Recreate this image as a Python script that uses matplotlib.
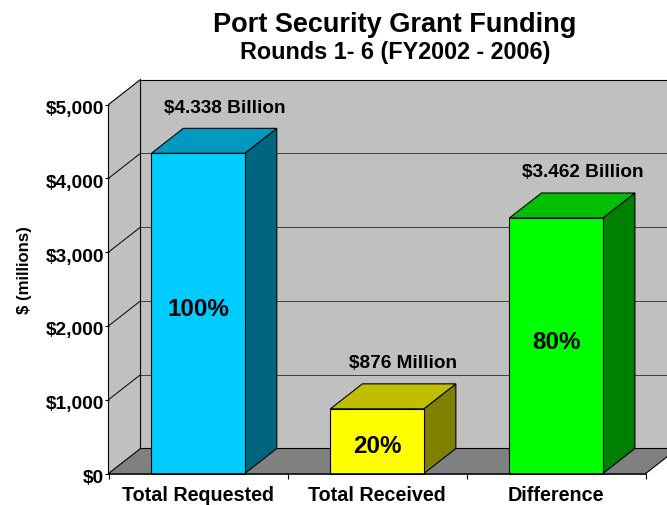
#!/usr/bin/env python3
"""Port security grant funding - fake 3D bar chart, PowerPoint style."""
import matplotlib
matplotlib.use("Agg")
import matplotlib.pyplot as plt
from matplotlib.patches import Polygon
from matplotlib.transforms import ScaledTranslation

plt.rcParams['font.family'] = ['Liberation Sans', 'DejaVu Sans']
plt.rcParams['font.weight'] = 'bold'

categories = ['Total Requested', 'Total Received', 'Difference']
values = [4338, 876, 3462]
value_labels = ['$4.338 Billion', '$876 Million', '$3.462 Billion']
pct_labels = ['100%', '20%', '80%']
y_ticks = [0, 1000, 2000, 3000, 4000, 5000]
y_tick_labels = ['$0', '$1,000', '$2,000', '$3,000', '$4,000', '$5,000']

front_colors = ['#00CCFF', '#FFFF00', '#00FF00']
top_colors = ['#0099BF', '#BFBF00', '#00BF00']
side_colors = ['#006680', '#808000', '#008000']

W, H = 667, 506
X0, X1 = 108.5, 645.7   # front plane in pixels
Y0, Y1 = 474.5, 105.5

fig = plt.figure(figsize=(W / 100, H / 100), dpi=100)
ax = fig.add_axes([X0 / W, 1 - Y0 / H, (X1 - X0) / W, (Y0 - Y1) / H])
ax.set_xlim(0, 3)
ax.set_ylim(0, 5000)
ax.patch.set_visible(False)
for s in ax.spines.values():
    s.set_visible(False)

# depth of the 3D box in data units
DX = 32 / ((X1 - X0) / 3)
DY = 25 / ((Y0 - Y1) / 5000)
BAR_W = 0.522
LW = 0.8
# percent labels are not quite centred on the bars
PCT_NUDGE = [67, -55, 58]


def poly(pts, color, z, lw=LW):
    ax.add_patch(Polygon(pts, closed=True, facecolor=color, edgecolor='black',
                         linewidth=lw, zorder=z, clip_on=False))


# walls + floor
poly([(DX, DY), (3 + DX, DY), (3 + DX, 5000 + DY), (DX, 5000 + DY)], '#C0C0C0', 1, lw=0)
poly([(0, 0), (DX, DY), (DX, 5000 + DY), (0, 5000)], '#C0C0C0', 1, lw=0)
poly([(0, 0), (DX, DY), (3 + DX, DY), (3, 0)], '#808080', 1, lw=0)
ax.plot([0, 0, DX, DX], [0, 5000, 5000 + DY, DY], color='black', lw=LW, zorder=2,
        clip_on=False)
ax.plot([0, DX, 3 + DX], [0, DY, DY], color='black', lw=LW, zorder=2, clip_on=False)
ax.plot([DX, 3 + DX], [5000 + DY, 5000 + DY], color='black', lw=LW, zorder=2, clip_on=False)
ax.plot([3, 3 + DX], [0, DY], color='black', lw=LW, zorder=2, clip_on=False)

# gridlines on left + back wall
for v in y_ticks[1:-1]:
    ax.plot([0, DX], [v, v + DY], color='black', lw=0.7, zorder=2, clip_on=False)
    ax.plot([DX, 3 + DX], [v + DY, v + DY], color='#404040', lw=0.7, zorder=2,
            clip_on=False)

# bars
for i, v in enumerate(values):
    c = i + 0.5
    l, r = c - BAR_W / 2, c + BAR_W / 2
    poly([(r, 0), (r + DX, DY), (r + DX, v + DY), (r, v)], side_colors[i], 3)
    poly([(l, v), (l + DX, v + DY), (r + DX, v + DY), (r, v)], top_colors[i], 3)
    poly([(l, 0), (r, 0), (r, v), (l, v)], front_colors[i], 4)
    ax.text(c, v / 2 + PCT_NUDGE[i], pct_labels[i], ha='center', va='center',
            fontsize=17.4, zorder=5)
    ax.text(c + DX * 0.82, v + DY + 285, value_labels[i], ha='center', va='center',
            fontsize=13.7, zorder=5)

ax.plot([0, 3], [0, 0], color='black', lw=1.2, zorder=6, clip_on=False)

ax.set_xticks([0, 1, 2, 3])
ax.set_xticklabels([])
ax.tick_params(axis='x', length=3.5, width=0.8, color='black')
ax.set_yticks(y_ticks)
ax.set_yticklabels(y_tick_labels, fontsize=13.8)
ax.tick_params(axis='y', length=3, width=0.8, pad=0, color='black')
nudge = ScaledTranslation(0, -1.5 / 72, fig.dpi_scale_trans)
for lab in ax.get_yticklabels():
    lab.set_transform(lab.get_transform() + nudge)
for i, name in enumerate(categories):
    ax.text(i + 0.5, -290, name, ha='center', va='center', fontsize=14.2, clip_on=False)

fig.text(24.5 / W, 1 - 270 / H, '$ (millions)', rotation=90, ha='center', va='center',
         fontsize=12.1)
fig.text(395 / W, 1 - 25.5 / H, 'Port Security Grant Funding', ha='center', va='center',
         fontsize=19.5)
fig.text(395 / W, 1 - 52.5 / H, 'Rounds 1- 6 (FY2002 - 2006)', ha='center', va='center',
         fontsize=16.8)

fig.savefig('out.png', dpi=100)
